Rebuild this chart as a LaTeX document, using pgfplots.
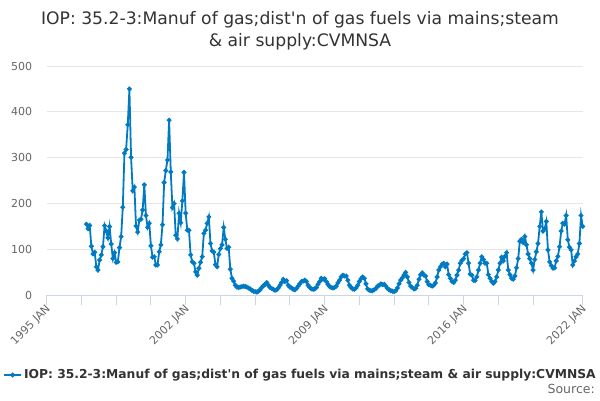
\documentclass[border=0pt]{standalone}
\usepackage{pgfplots}
\pgfplotsset{compat=1.18}
\usepackage{fontspec}
\setmainfont{DejaVu Sans}
\definecolor{serblue}{RGB}{0,122,195}
\definecolor{gridgray}{RGB}{230,230,230}
\definecolor{axisblue}{RGB}{204,214,235}
\definecolor{ticktext}{RGB}{102,102,102}
\definecolor{titletext}{RGB}{51,51,51}
\begin{document}
\begin{tikzpicture}[x=1pt,y=1pt]
\useasboundingbox (0,0) rectangle (600,400);
\node[anchor=base, text=titletext, font=\fontsize{17.2}{21}\selectfont, inner sep=0] at (300,375) {IOP: 35.2-3:Manuf of gas;dist\textquotesingle n of gas fuels via mains;steam};
\node[anchor=base, text=titletext, font=\fontsize{17.2}{21}\selectfont, inner sep=0] at (300,353.3) {\& air supply:CVMNSA};
\begin{axis}[
  at={(46.7pt,104.7pt)}, anchor=south west,
  scale only axis, width=536pt, height=229.3pt,
  xmin=-24, xmax=300, ymin=0, ymax=500,
  ytick={0,100,200,300,400,500},
  ymajorgrids, grid style={color=gridgray, line width=1pt},
  axis x line*=bottom, axis y line*=left,
  y axis line style={draw=none}, ytick style={draw=none},
  x axis line style={color=axisblue, line width=1pt, -},
  xtick={-24,60,144,228,300},
  xticklabels={1995 JAN,2002 JAN,2009 JAN,2016 JAN,2022 JAN},
  minor xtick={-3,18,39,81,102,123,165,186,207,249,270},
  xtick style={color=axisblue, line width=1pt},
  minor x tick style={color=axisblue, line width=1pt},
  tick align=outside, major tick length=10pt, minor tick length=10pt,
  /pgf/number format/assume math mode=true,
  tick label style={font=\fontsize{11}{13}\selectfont, text=ticktext},
  yticklabel style={anchor=east, xshift=-1pt},
  xticklabel style={rotate=45, anchor=east, inner sep=0pt, xshift=0pt, yshift=-3pt},
  clip=false,
  legend style={at={(-0.0815,-0.3476)}, anchor=west, draw=none, fill=none, inner sep=0pt,
    font=\fontsize{12.3}{14}\selectfont\bfseries, text=titletext,
    /tikz/every even column/.append style={column sep=0pt}},
  legend cell align=left,
  legend image code/.code={\draw[#1, mark repeat=2, mark phase=2] plot coordinates {(0pt,0pt) (8.5pt,0pt) (17pt,0pt)};},
]
\addplot[color=serblue, line width=1.8pt, mark=*, mark size=1.4pt, mark options={solid, fill=serblue}] table[row sep=\\] {
m y\\
0 155\\ 1 145\\ 2 152\\ 3 107\\ 4 90\\ 5 94\\ 6 62\\ 7 55\\ 8 77\\ 9 88\\
10 106\\ 11 152\\ 12 140\\ 13 125\\ 14 150\\ 15 112\\ 16 80\\ 17 93\\ 18 72\\ 19 73\\
20 104\\ 21 128\\ 22 192\\ 23 310\\ 24 318\\ 25 372\\ 26 450\\ 27 301\\ 28 228\\ 29 236\\
30 151\\ 31 138\\ 32 164\\ 33 166\\ 34 186\\ 35 241\\ 36 174\\ 37 148\\ 38 157\\ 39 108\\
40 83\\ 41 84\\ 42 66\\ 43 66\\ 44 95\\ 45 110\\ 46 154\\ 47 246\\ 48 272\\ 49 295\\
50 382\\ 51 269\\ 52 191\\ 53 200\\ 54 131\\ 55 123\\ 56 179\\ 57 158\\ 58 206\\ 59 268\\
60 179\\ 61 142\\ 62 142\\ 63 88\\ 64 73\\ 65 70\\ 66 51\\ 67 44\\ 68 59\\ 69 72\\
70 84\\ 71 135\\ 72 142\\ 73 157\\ 74 171\\ 75 113\\ 76 97\\ 77 94\\ 78 67\\ 79 62\\
80 89\\ 81 102\\ 82 110\\ 83 148\\ 84 122\\ 85 102\\ 86 105\\ 87 57\\ 88 37\\ 89 31\\
90 22\\ 91 18\\ 92 17\\ 93 18\\ 94 19\\ 95 20\\ 96 19\\ 97 18\\ 98 16\\ 99 14\\
100 11\\ 101 9\\ 102 8\\ 103 7\\ 104 9\\ 105 12\\ 106 17\\ 107 21\\ 108 24\\ 109 28\\
110 22\\ 111 17\\ 112 15\\ 113 13\\ 114 11\\ 115 12\\ 116 16\\ 117 22\\ 118 28\\ 119 35\\
120 30\\ 121 32\\ 122 22\\ 123 18\\ 124 16\\ 125 13\\ 126 12\\ 127 15\\ 128 20\\ 129 25\\
130 30\\ 131 31\\ 132 33\\ 133 30\\ 134 22\\ 135 17\\ 136 14\\ 137 13\\ 138 14\\ 139 17\\
140 24\\ 141 30\\ 142 37\\ 143 35\\ 144 36\\ 145 30\\ 146 24\\ 147 19\\ 148 17\\ 149 16\\
150 17\\ 151 20\\ 152 27\\ 153 33\\ 154 40\\ 155 44\\ 156 42\\ 157 42\\ 158 33\\ 159 22\\
160 17\\ 161 14\\ 162 13\\ 163 16\\ 164 22\\ 165 30\\ 166 36\\ 167 40\\ 168 37\\ 169 25\\
170 14\\ 171 11\\ 172 10\\ 173 10\\ 174 12\\ 175 15\\ 176 20\\ 177 22\\ 178 25\\ 179 23\\
180 24\\ 181 20\\ 182 15\\ 183 12\\ 184 10\\ 185 9\\ 186 8\\ 187 10\\ 188 16\\ 189 25\\
190 33\\ 191 38\\ 192 44\\ 193 50\\ 194 40\\ 195 28\\ 196 20\\ 197 17\\ 198 14\\ 199 15\\
200 22\\ 201 35\\ 202 45\\ 203 49\\ 204 44\\ 205 42\\ 206 30\\ 207 23\\ 208 22\\ 209 20\\
210 22\\ 211 27\\ 212 40\\ 213 55\\ 214 62\\ 215 68\\ 216 70\\ 217 62\\ 218 68\\ 219 45\\
220 37\\ 221 30\\ 222 28\\ 223 33\\ 224 44\\ 225 55\\ 226 70\\ 227 76\\ 228 80\\ 229 90\\
230 93\\ 231 70\\ 232 46\\ 233 44\\ 234 33\\ 235 32\\ 236 40\\ 237 55\\ 238 70\\ 239 84\\
240 78\\ 241 70\\ 242 70\\ 243 45\\ 244 37\\ 245 30\\ 246 26\\ 247 30\\ 248 40\\ 249 55\\
250 70\\ 251 83\\ 252 75\\ 253 85\\ 254 93\\ 255 55\\ 256 45\\ 257 37\\ 258 35\\ 259 42\\
260 60\\ 261 80\\ 262 118\\ 263 122\\ 264 115\\ 265 128\\ 266 110\\ 267 90\\ 268 80\\ 269 70\\
270 55\\ 271 78\\ 272 95\\ 273 113\\ 274 150\\ 275 182\\ 276 140\\ 277 145\\ 278 161\\ 279 99\\
280 73\\ 281 65\\ 282 59\\ 283 60\\ 284 75\\ 285 85\\ 286 106\\ 287 140\\ 288 157\\ 289 155\\
290 174\\ 291 121\\ 292 105\\ 293 99\\ 294 66\\ 295 75\\ 296 84\\ 297 90\\ 298 113\\ 299 174\\
300 150\\
};
\addlegendentry{IOP: 35.2-3:Manuf of gas;dist\textquotesingle n of gas fuels via mains;steam \& air supply:CVMNSA}
\end{axis}
\node[anchor=base east, text=ticktext, font=\fontsize{12.5}{14}\selectfont, inner sep=0] at (595,7) {Source:};
\end{tikzpicture}
\end{document}
